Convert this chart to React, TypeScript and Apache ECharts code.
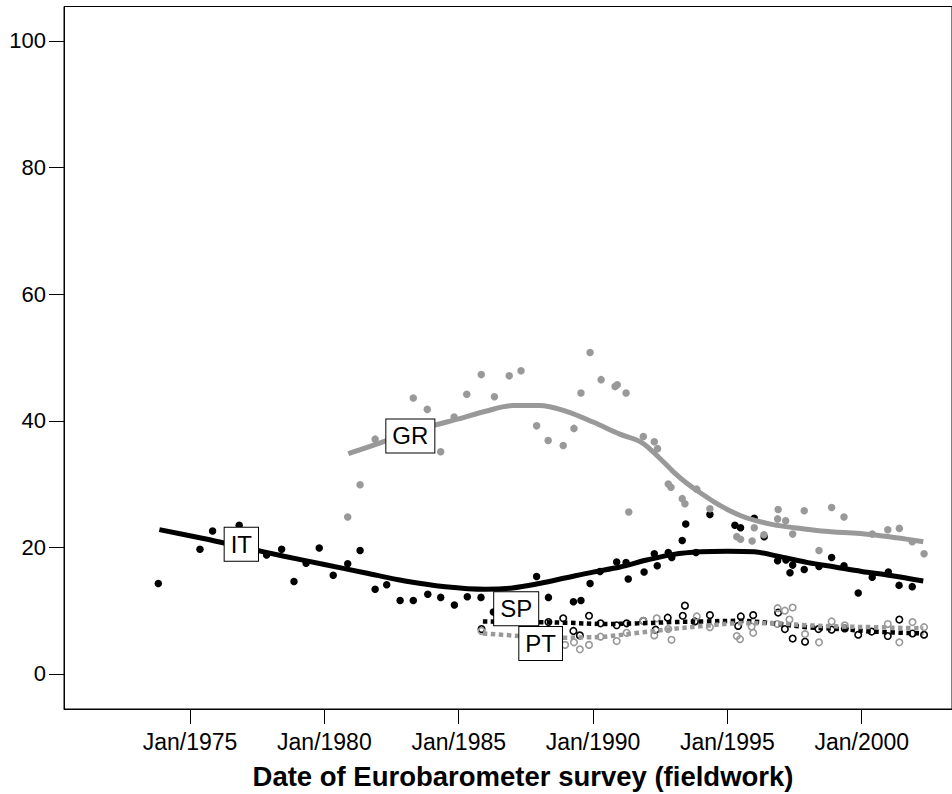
import { useEffect, useRef } from "react";
import * as echarts from "echarts";

const FONT = "'Liberation Sans', Arial, Helvetica, sans-serif";

const xTickYears = [1975, 1980, 1985, 1990, 1995, 2000];
const yTickValues = [0, 20, 40, 60, 80, 100];
const xTitle = "Date of Eurobarometer survey (fieldwork)";

// Italy: survey points (black filled)
const itPoints: [number, number][] = [
  [1973.82, 14.3], [1975.37, 19.7], [1975.84, 22.6], [1976.83, 23.5], [1977.85, 18.8],
  [1978.41, 19.7], [1978.87, 14.6], [1979.32, 17.5], [1979.81, 19.9], [1980.33, 15.6],
  [1980.87, 17.4], [1981.33, 19.5], [1981.89, 13.4], [1982.32, 14.1], [1982.82, 11.6],
  [1983.31, 11.6], [1983.85, 12.6], [1984.33, 12.1], [1984.84, 10.9], [1985.32, 12.2],
  [1985.83, 12.1], [1986.29, 9.8], [1987.9, 15.4], [1988.34, 12.1], [1989.27, 11.4],
  [1989.55, 11.6], [1989.89, 14.3], [1990.26, 16.2], [1990.88, 17.7], [1991.23, 17.6],
  [1991.31, 15.0], [1991.9, 16.1], [1992.28, 19.0], [1992.39, 17.1], [1992.8, 19.2],
  [1992.93, 18.4], [1993.32, 21.1], [1993.45, 23.7], [1993.83, 19.2], [1994.35, 25.2],
  [1995.28, 23.5], [1995.49, 23.1], [1996.0, 24.6], [1996.37, 21.7], [1996.87, 17.9],
  [1997.18, 18.0], [1997.33, 16.0], [1997.43, 17.2], [1997.86, 16.5], [1998.41, 17.0],
  [1998.88, 18.4], [1999.34, 17.1], [1999.87, 12.8], [2000.39, 15.3], [2000.99, 16.1],
  [2001.39, 14.0], [2001.88, 13.8],
];

// Greece: survey points (grey filled)
const grPoints: [number, number][] = [
  [1980.87, 24.8], [1981.33, 29.9], [1981.89, 37.1], [1983.31, 43.6], [1983.83, 41.8],
  [1984.33, 35.1], [1984.83, 40.6], [1985.3, 44.2], [1985.84, 47.3], [1986.33, 43.8],
  [1986.88, 47.1], [1987.32, 47.9], [1987.9, 39.2], [1988.33, 36.9], [1988.89, 36.1],
  [1989.29, 38.8], [1989.55, 44.4], [1989.89, 50.8], [1990.3, 46.5], [1990.82, 45.4],
  [1990.9, 45.7], [1991.23, 44.4], [1991.33, 25.6], [1991.87, 37.5], [1992.28, 36.7],
  [1992.4, 35.6], [1992.8, 30.0], [1992.9, 29.5], [1993.32, 27.7], [1993.42, 26.9],
  [1993.86, 29.2], [1994.35, 26.1], [1995.35, 21.7], [1995.49, 21.3], [1995.92, 21.0],
  [1996.0, 23.1], [1996.36, 22.0], [1996.87, 24.5], [1996.89, 26.0], [1997.17, 24.2],
  [1997.43, 22.1], [1997.86, 25.8], [1998.41, 19.5], [1998.88, 26.3], [1999.34, 24.8],
  [2000.39, 22.1], [2000.97, 22.8], [2001.4, 23.0], [2001.88, 20.9], [2002.32, 19.0],
];

// Spain: survey points (black open)
const spPoints: [number, number][] = [
  [1985.85, 7.1], [1988.34, 8.2], [1988.89, 8.8], [1989.27, 6.8], [1989.51, 6.1],
  [1989.85, 9.2], [1990.28, 8.0], [1990.88, 7.7], [1991.25, 8.0], [1991.87, 8.4],
  [1992.33, 7.0], [1992.78, 8.9], [1993.34, 9.2], [1993.42, 10.8], [1993.79, 8.3],
  [1994.35, 9.3], [1995.4, 7.6], [1995.5, 9.1], [1995.96, 9.3], [1996.89, 9.7],
  [1997.14, 7.1], [1997.43, 5.6], [1997.89, 5.1], [1998.39, 7.1], [1998.88, 7.0],
  [1999.37, 7.2], [1999.87, 6.2], [2000.37, 6.7], [2000.97, 6.0], [2001.4, 8.6],
  [2001.89, 6.4], [2002.32, 6.2],
];

// Portugal: survey points (grey open)
const ptPoints: [number, number][] = [
  [1985.85, 6.8], [1988.96, 4.6], [1989.29, 5.0], [1989.51, 3.9], [1989.85, 4.6],
  [1990.28, 5.9], [1990.88, 5.2], [1991.25, 6.5], [1991.87, 8.4], [1992.28, 6.1],
  [1992.37, 8.8], [1992.8, 7.1], [1992.92, 5.4], [1993.86, 9.1], [1994.35, 7.4],
  [1995.35, 6.0], [1995.47, 5.5], [1995.9, 7.5], [1995.96, 6.5], [1996.86, 7.9],
  [1996.87, 10.4], [1997.14, 10.0], [1997.31, 8.6], [1997.43, 10.5], [1997.89, 6.3],
  [1998.41, 5.0], [1998.88, 8.3], [1999.37, 7.7], [2000.97, 7.9], [2001.4, 5.0],
  [2001.89, 8.2], [2002.32, 7.4],
];

// Smoothed trends
const itTrend: [number, number][] = [
  [1973.86, 22.8], [1975.5, 21.4], [1977.0, 20.0], [1978.5, 18.6], [1980.0, 17.3],
  [1981.5, 16.0], [1983.0, 14.7], [1984.5, 13.8], [1986.0, 13.4], [1987.0, 13.6],
  [1988.0, 14.3], [1989.0, 15.2], [1990.0, 16.1], [1991.0, 16.9], [1992.0, 18.0],
  [1993.0, 18.9], [1994.0, 19.3], [1995.0, 19.4], [1996.0, 19.3], [1997.0, 18.5],
  [1998.0, 17.6], [1999.0, 16.9], [2000.0, 16.2], [2001.0, 15.6], [2002.29, 14.7],
];

const grTrend: [number, number][] = [
  [1980.89, 34.8], [1982.0, 36.4], [1983.0, 37.9], [1984.0, 39.2], [1985.0, 40.3],
  [1986.0, 41.5], [1987.0, 42.4], [1988.0, 42.4], [1989.0, 41.5], [1990.0, 39.8],
  [1991.0, 37.9], [1991.8, 36.6], [1992.5, 34.0], [1993.0, 31.9], [1993.5, 30.1],
  [1994.0, 28.6], [1994.5, 27.2], [1995.0, 26.0], [1995.5, 25.0], [1996.0, 24.3],
  [1996.7, 23.6], [1997.5, 23.1], [1998.5, 22.6], [2000.4, 22.0], [2002.29, 20.9],
];

const spTrend: [number, number][] = [
  [1985.9, 8.3], [1987.5, 8.2], [1989.0, 8.1], [1990.44, 7.9], [1991.68, 8.0],
  [1992.93, 8.2], [1994.17, 8.3], [1995.41, 8.4], [1996.71, 8.0], [1997.95, 7.4],
  [1999.19, 7.1], [2000.43, 6.7], [2002.29, 6.4],
];

const ptTrend: [number, number][] = [
  [1985.9, 6.4], [1987.3, 6.0], [1988.5, 5.7], [1989.76, 5.8], [1990.44, 5.9],
  [1991.68, 6.5], [1992.93, 7.1], [1994.17, 7.6], [1995.41, 8.0], [1996.71, 8.0],
  [1997.95, 7.7], [1999.19, 7.5], [2000.43, 7.4], [2002.29, 7.2],
];

// Country tags (anchor in data coordinates)
const countryTags: [string, number, number][] = [
  ["IT", 1976.91, 20.5],
  ["GR", 1983.2, 37.6],
  ["SP", 1987.14, 10.3],
  ["PT", 1988.05, 4.8],
];

const BLACK = "#000000";
const GREY = "#999999";

export default function App() {
  const ref = useRef<HTMLDivElement>(null);

  useEffect(() => {
    if (!ref.current) return;
    const chart = echarts.init(ref.current, null, { renderer: "svg" });

    const filled = (data: [number, number][], color: string, z: number) => ({
      type: "scatter",
      data,
      symbol: "circle",
      symbolSize: 7.5,
      itemStyle: { color, opacity: 1 },
      silent: true,
      z,
    });
    const open = (data: [number, number][], color: string, z: number) => ({
      type: "scatter",
      data,
      symbol: "circle",
      symbolSize: 6.5,
      itemStyle: { color: "transparent", borderColor: color, borderWidth: 1.6, opacity: 1 },
      silent: true,
      z,
    });
    const trend = (data: [number, number][], color: string, dotted: boolean, z: number) => ({
      type: "line",
      data,
      smooth: 0.35,
      symbol: "none",
      showSymbol: false,
      lineStyle: dotted
        ? { color, width: 4.5, type: [4.5, 3.5], cap: "butt" }
        : { color, width: 5, cap: "butt" },
      silent: true,
      z,
    });

    chart.setOption({
      animation: false,
      backgroundColor: "#ffffff",
      textStyle: { fontFamily: FONT },
      grid: {
        left: 64,
        right: 0,
        top: 6.5,
        bottom: 85,
        show: true,
        borderColor: BLACK,
        borderWidth: 1,
        backgroundColor: "transparent",
        containLabel: false,
        outerBoundsMode: "none",
      },
      xAxis: {
        type: "value",
        min: 1970.31,
        max: 2003.36,
        splitLine: { show: false },
        axisLine: { show: true, onZero: false, lineStyle: { color: BLACK, width: 1 } },
        axisTick: {
          show: true,
          inside: false,
          length: 15,
          customValues: xTickYears,
          lineStyle: { color: BLACK, width: 1 },
        },
        axisLabel: {
          show: true,
          customValues: xTickYears,
          formatter: (v: number) => "Jan/" + Math.round(v),
          fontSize: 23,
          fontFamily: FONT,
          color: BLACK,
          margin: 21,
        },
      },
      yAxis: {
        type: "value",
        min: -5.53,
        max: 105.45,
        splitLine: { show: false },
        axisLine: { show: true, onZero: false, lineStyle: { color: BLACK, width: 1 } },
        axisTick: {
          show: true,
          inside: false,
          length: 15,
          customValues: yTickValues,
          lineStyle: { color: BLACK, width: 1 },
        },
        axisLabel: {
          show: true,
          customValues: yTickValues,
          formatter: (v: number) => String(Math.round(v)),
          fontSize: 22,
          fontFamily: FONT,
          color: BLACK,
          margin: 18,
        },
      },
      graphic: [
        {
          type: "text",
          x: 523,
          y: 776,
          silent: true,
          style: {
            text: xTitle,
            fontSize: 27.5,
            fontWeight: "bold",
            fontFamily: FONT,
            fill: BLACK,
            align: "center",
            verticalAlign: "middle",
          },
        },
      ],
      series: [
        filled(itPoints, BLACK, 2),
        filled(grPoints, GREY, 2),
        open(spPoints, BLACK, 2),
        open(ptPoints, GREY, 2),
        trend(itTrend, BLACK, false, 3),
        trend(grTrend, GREY, false, 3),
        trend(spTrend, BLACK, true, 3),
        trend(ptTrend, GREY, true, 3),
        {
          type: "scatter",
          data: countryTags.map(([name, x, y]) => ({ name, value: [x, y] })),
          symbol: "circle",
          symbolSize: 1,
          itemStyle: { color: "transparent", opacity: 1 },
          silent: true,
          z: 10,
          label: {
            show: true,
            position: "inside",
            formatter: "{b}",
            fontSize: 24,
            fontFamily: FONT,
            color: BLACK,
            opacity: 1,
            textBorderWidth: 0,
            textBorderColor: "transparent",
            backgroundColor: "#ffffff",
            borderColor: BLACK,
            borderWidth: 1,
            padding: [5, 6, 4, 6],
          },
        },
      ],
    });

    return () => chart.dispose();
  }, []);

  return (
    <div
      ref={ref}
      style={{ position: "fixed", left: 0, top: 0, width: 952, height: 794, background: "#fff" }}
    />
  );
}
